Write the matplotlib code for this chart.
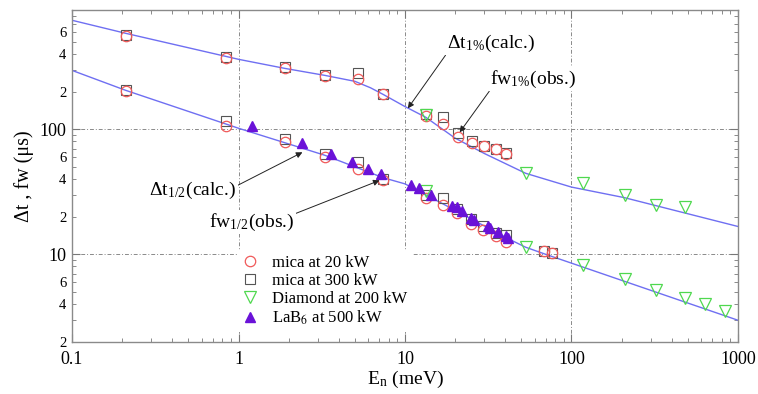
import matplotlib
matplotlib.use('Agg')
import matplotlib.pyplot as plt
from matplotlib.ticker import LogLocator, FuncFormatter, NullFormatter
import numpy as np

plt.rcParams['font.family'] = ['Liberation Serif', 'DejaVu Serif']
plt.rcParams['mathtext.fontset'] = 'stix'

# ─── Data ──────────────────────────────────────────────────────
# calculated curves
calc1_x = [0.1, 0.21, 1, 1.9, 3.3, 5, 6.2, 7.4, 10, 13.3, 20, 30, 53, 100, 208, 1000]
calc1_y = [745, 586, 363, 307, 270, 242, 215, 190, 152, 125, 85, 64, 44.5, 34.5, 28.4, 16.7]
calc2_x = [0.1, 0.21, 1, 3.3, 7.4, 10, 20, 40, 53, 70, 100, 1000]
calc2_y = [296, 205, 102, 62, 41, 36.6, 22.5, 13.7, 11.4, 10.0, 8.5, 2.97]

# mica at 20 kW (circles)
mica20_x = [0.21, 0.84, 1.9, 3.3, 5.2, 7.4, 13.3, 16.8, 20.9, 25.1, 30, 35, 40.7,
            0.21, 0.84, 1.9, 3.3, 5.2, 7.4, 13.3, 16.8, 20.6, 25, 29.5, 35, 40.7, 68, 76]
mica20_y = [555, 370, 308, 266, 251, 190, 127, 110, 86, 77, 73, 70, 64,
            201, 106, 79, 60, 48, 39, 28, 24.7, 21.3, 17.4, 15.6, 13.9, 12.5, 10.6, 10.2]

# mica at 300 kW (squares)
mica300_x = [0.21, 0.84, 1.9, 3.3, 5.2, 7.4, 13.3, 16.8, 20.9, 25.1, 30, 35, 40.7,
             0.21, 0.84, 1.9, 3.3, 5.2, 7.4, 13.3, 16.8, 20.6, 25, 29.5, 35, 40.7, 68, 76]
mica300_y = [570, 380, 315, 272, 281, 192, 133, 125, 93, 80, 74, 69, 65,
             207, 117, 84, 64, 55, 40, 30, 28, 23, 19, 17, 14.7, 14.2, 10.6, 10.2]

# Diamond at 200 kW (down triangles)
diam_x = [13.3, 53, 118, 211, 324, 478,
          13.3, 53, 118, 211, 324, 478, 638, 841]
diam_y = [130, 44.5, 37, 30, 25, 24,
          32, 11.4, 8.2, 6.3, 5.15, 4.45, 4.0, 3.5]

# LaB6 at 500 kW (filled up triangles)
lab6_x = [1.21, 2.39, 3.6, 4.8, 6.0, 7.2, 10.8, 12.1, 14.4, 19.2, 20.6, 22,
          25, 25.9, 31.3, 32.5, 36, 40.3, 41.5]
lab6_y = [106, 77, 63, 55, 48, 44, 35.6, 34, 30, 24.5, 23.8, 22.2,
          19.4, 18.8, 16.8, 16.3, 15.0, 13.9, 13.6]

# ─── Figure ────────────────────────────────────────────────────
fig = plt.figure(figsize=(7.58, 3.94), dpi=100)
ax = fig.add_axes([0.095, 0.1327, 0.8786, 0.8419])
ax.set_xscale('log')
ax.set_yscale('log')
ax.set_xlim(0.1, 1000)
ax.set_ylim(2, 900)

LINE = '#6f6ff2'
ax.plot(calc1_x, calc1_y, color=LINE, lw=1.0, zorder=2)
ax.plot(calc2_x, calc2_y, color=LINE, lw=1.0, zorder=2)

ax.plot(mica300_x, mica300_y, ls='none', marker='s', ms=6.5, mfc='none',
        mec='#555555', mew=0.8, label='mica at 300 kW', zorder=3)
ax.plot(mica20_x, mica20_y, ls='none', marker='o', ms=7.5, mfc='none',
        mec='#f05a5a', mew=0.9, label='mica at 20 kW', zorder=4)
ax.plot(diam_x, diam_y, ls='none', marker='v', ms=8, mfc='none',
        mec='#4fd84f', mew=0.9, label='Diamond at 200 kW', zorder=4)
ax.plot(lab6_x, lab6_y, ls='none', marker='^', ms=7, color='#6a12d8',
        label='LaB$_6$ at 500 kW', zorder=5)

# ─── Grid / ticks ──────────────────────────────────────────────
ax.grid(True, which='major', color='#8a8a8a', lw=0.7, ls=(0, (4, 2, 1, 2)), zorder=0)
for s in ax.spines.values():
    s.set_color('#8a8a8a')
    s.set_linewidth(1.0)

ax.xaxis.set_major_locator(LogLocator(base=10, numticks=10))
ax.xaxis.set_minor_locator(LogLocator(base=10, subs=np.arange(2, 10), numticks=20))
ax.xaxis.set_major_formatter(FuncFormatter(lambda v, p: '%g' % v))
ax.xaxis.set_minor_formatter(NullFormatter())

def ylab(v, pos):
    e = np.floor(np.log10(v) + 1e-9)
    m = int(round(v / 10 ** e))
    if m == 1:
        return '%d' % round(v)
    if m in (2, 4, 6):
        return str(m)
    return ''

ax.yaxis.set_major_locator(LogLocator(base=10, numticks=10))
ax.yaxis.set_minor_locator(LogLocator(base=10, subs=np.arange(2, 10), numticks=20))
ax.yaxis.set_major_formatter(FuncFormatter(ylab))
ax.yaxis.set_minor_formatter(FuncFormatter(ylab))

ax.tick_params(which='both', direction='in', top=True, right=True, color='#777777')
ax.tick_params(which='major', length=6, width=0.8)
ax.tick_params(which='minor', length=3, width=0.6)
ax.tick_params(axis='x', which='major', labelsize=13, pad=7)
ax.tick_params(axis='y', which='major', labelsize=13, pad=4)
ax.tick_params(axis='y', which='minor', labelsize=10.5, pad=4)

ax.set_xlabel('E$_\\mathregular{n}$ (meV)', fontsize=14, labelpad=0)
ax.set_ylabel('\u0394t , fw (\u03bcs)', fontsize=14.5, labelpad=4)

# ─── Annotations ───────────────────────────────────────────────
arrow = dict(arrowstyle='-|>', color='#222222', lw=0.7, mutation_scale=9,
             shrinkA=0, shrinkB=0)
box = dict(fc='white', ec='none', pad=1)

ax.annotate('\u0394t$_\\mathregular{1\\%}$(calc.)', xy=(10.4, 147), xytext=(32.6, 488),
            fontsize=14, ha='center', va='center', bbox=box,
            arrowprops=dict(arrow, relpos=(0.0, 0.0)), zorder=6)
ax.annotate('fw$_\\mathregular{1\\%}$(obs.)', xy=(21.3, 94.6), xytext=(59, 251),
            fontsize=14, ha='center', va='center', bbox=box,
            arrowprops=dict(arrow, relpos=(0.0, 0.0)), zorder=6)
ax.annotate('\u0394t$_\\mathregular{1/2}$(calc.)', xy=(2.42, 65.5), xytext=(0.53, 32.5),
            fontsize=14, ha='center', va='center', bbox=box,
            arrowprops=dict(arrow, relpos=(1.0, 0.7)), zorder=6)
ax.annotate('fw$_\\mathregular{1/2}$(obs.)', xy=(7.03, 39), xytext=(1.2, 18),
            fontsize=14, ha='center', va='center', bbox=box,
            arrowprops=dict(arrow, relpos=(1.0, 0.9)), zorder=6)

# ─── Legend ────────────────────────────────────────────────────
h, l = ax.get_legend_handles_labels()
order = [1, 0, 2, 3]
leg = ax.legend([h[i] for i in order], [l[i] for i in order],
                loc='upper left', bbox_to_anchor=(0.235, 0.303), fontsize=12,
                frameon=True, fancybox=False, handlelength=1.0, handletextpad=0.8,
                labelspacing=0.12, borderpad=0.3)
leg.get_frame().set_facecolor('white')
leg.get_frame().set_edgecolor('none')
leg.get_frame().set_alpha(1)
leg.set_zorder(7)

plt.savefig('out.png', dpi=100, facecolor='white')
plt.close(fig)
